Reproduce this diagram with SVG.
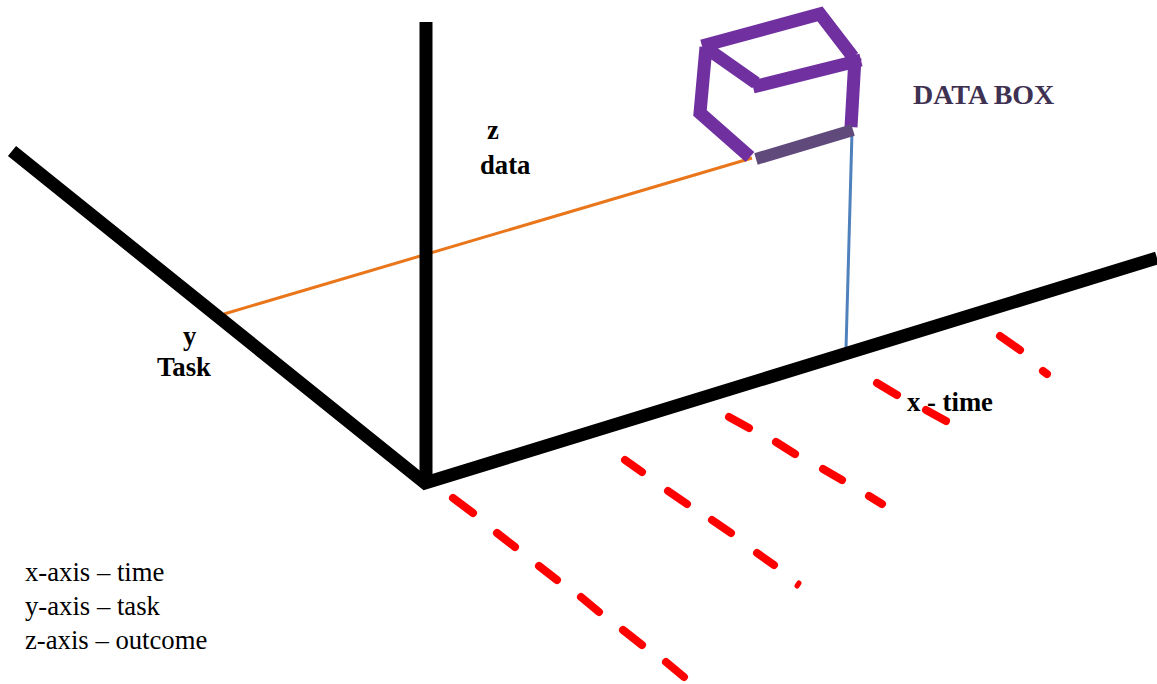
<svg xmlns="http://www.w3.org/2000/svg" width="1157" height="684" viewBox="0 0 1157 684">
<style>
.axis{fill:none;stroke:#000;stroke-width:13;stroke-linejoin:miter}
.dash{fill:none;stroke:#f00;stroke-width:8;stroke-linecap:round}
.box{fill:none;stroke:#7030a0;stroke-width:13}
text{font-family:"Liberation Serif","Times New Roman",serif;fill:#000}
.b{font-weight:bold;font-size:26.7px}
.r{font-size:26.7px}
</style>
<rect width="1157" height="684" fill="#fff"/>
<g id="connectors">
<path d="M224 314L752 158" fill="none" stroke="#e9761a" stroke-width="3"/>
<path d="M852 132L846 349" fill="none" stroke="#4f81bd" stroke-width="3"/>
<g id="red-dashes">
<path class="dash" d="M453 498L473 513M497 533L515 547M539 566L557 580M581 597L599 612M623 630L642 645M666 662L684 677"/>
<path class="dash" d="M625 460L642 472M668 491L687 504M712 520L731 533M757 553L774 565"/>
<path class="dash" style="stroke-width:5" d="M797 586L799 583"/>
<path class="dash" d="M729 417L749 428M776 442L795 454M823 469L842 480M869 496L882 504"/>
<path class="dash" d="M877 383L897 395M926 410L946 421"/>
<path class="dash" d="M1000 336L1020 350M1043 371L1047 374"/>
</g>
</g>
<g id="axes">
<path class="axis" d="M426 22V482"/>
<path class="axis" d="M12 151L425 483L1157 258"/>
</g>
<g id="data-box">
<path class="box" d="M702 46L820 14L853 57M709 50L756 83M753 87L861 60M855 58L851 127M706 47L700 113L750 157"/>
<path d="M756 159L853 130" fill="none" stroke="#604a7b" stroke-width="12"/>
</g>
<g id="label-z"><text class="b" x="487" y="139">z</text><text class="b" x="480" y="174">data</text></g>
<g id="label-y"><text class="b" x="183" y="345">y</text><text class="b" x="157" y="376">Task</text></g>
<g id="label-x"><text class="b" x="907" y="411">x - time</text></g>
<g id="label-data-box"><text class="b" x="913" y="104" style="fill:#3f3151;font-size:28px">DATA BOX</text></g>
<g id="legend">
<text class="r" x="25" y="581">x-axis – time</text>
<text class="r" x="25" y="615">y-axis – task</text>
<text class="r" x="25" y="649">z-axis – outcome</text>
</g>
</svg>
